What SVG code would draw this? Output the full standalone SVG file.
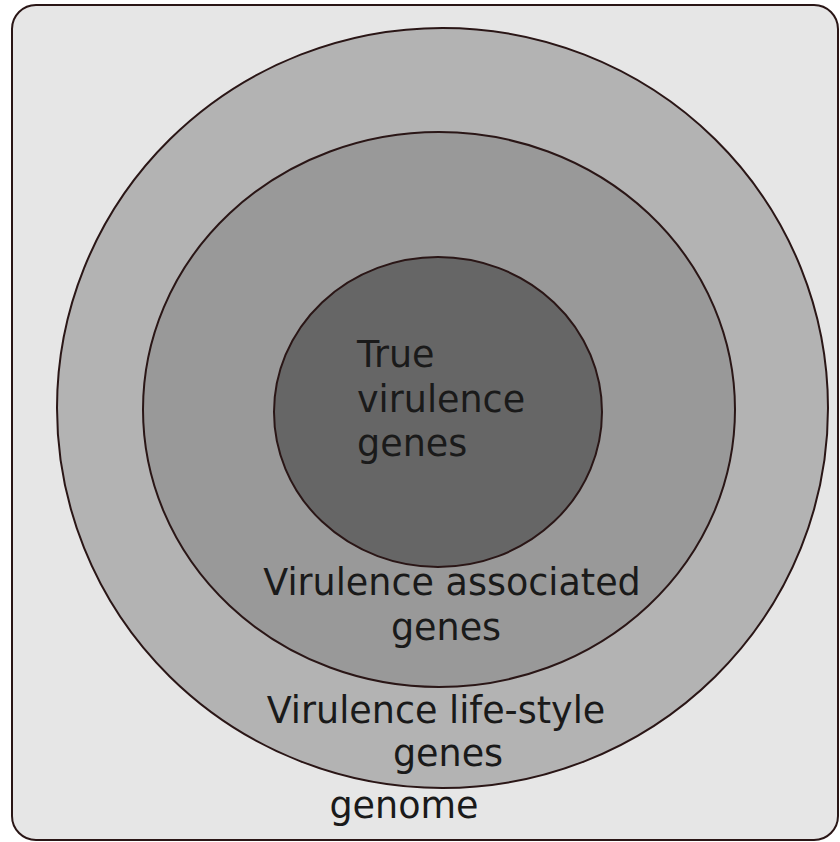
<svg xmlns="http://www.w3.org/2000/svg" width="840" height="842" viewBox="0 0 840 842">
  <style>
    .ring { stroke: #2a1616; stroke-width: 2; }
    .lbl { font-family: "DejaVu Sans", Verdana, sans-serif; font-size: 36.5px; fill: #1a1a1a; }
    .mid { text-anchor: middle; }
  </style>
  <g id="genome">
    <rect x="12" y="5" width="826" height="835" rx="24" ry="24" fill="#e6e6e6" stroke="#2a1616" stroke-width="2"/>
    <text class="lbl mid" x="404" y="818">genome</text>
  </g>
  <g id="lifestyle">
    <ellipse class="ring" cx="442.5" cy="408" rx="385.5" ry="380" fill="#b3b3b3"/>
    <text class="lbl mid" x="436" y="723">Virulence life-style</text>
    <text class="lbl mid" x="448" y="766">genes</text>
  </g>
  <g id="associated">
    <ellipse class="ring" cx="439" cy="409.5" rx="296" ry="277.5" fill="#999999"/>
    <text class="lbl mid" x="452" y="595">Virulence associated</text>
    <text class="lbl mid" x="446" y="640">genes</text>
  </g>
  <g id="true">
    <ellipse class="ring" cx="438" cy="412" rx="164" ry="155" fill="#666666"/>
    <text class="lbl" x="357" y="367">True</text>
    <text class="lbl" x="357" y="412">virulence</text>
    <text class="lbl" x="357" y="456">genes</text>
  </g>
  <g id="connectors"/>
</svg>
